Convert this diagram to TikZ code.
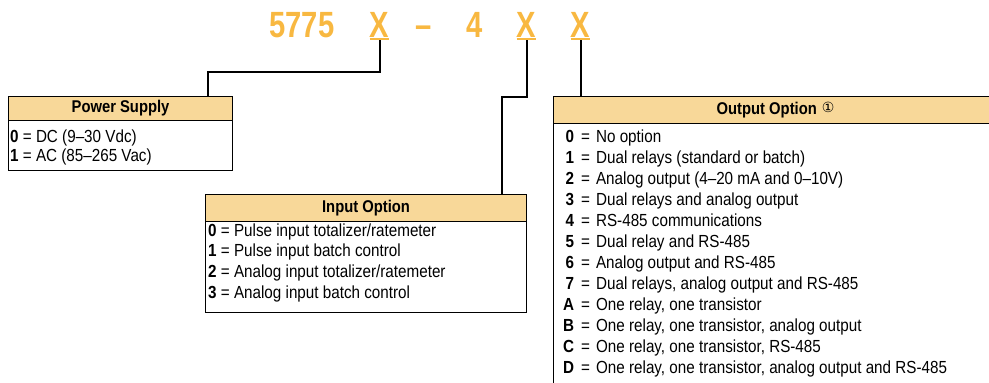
\documentclass[tikz,border=0pt]{standalone}
\usepackage{fontspec}
\setmainfont{Liberation Sans}[FakeStretch=0.87]
\newfontfamily\titlefont{Liberation Sans}[FakeStretch=0.8,Ligatures=TeX]
\newfontfamily\symfont{DejaVu Sans}
\usepackage{xcolor}
\usetikzlibrary{calc}
\definecolor{codeorange}{HTML}{F8B841}
\definecolor{hdfill}{HTML}{F8D899}

\begin{document}
\begin{tikzpicture}[
  x=1pt,y=-1pt,
  hd/.style={draw=black,line width=1.1pt,fill=hdfill,inner sep=0pt,anchor=north west,
             font=\fontsize{17}{20}\selectfont\bfseries},
  bd/.style={draw=black,line width=1.1pt,fill=white,inner sep=0pt,anchor=north west},
  it/.style={anchor=base west,inner sep=0pt,font=\fontsize{17.5}{20}\selectfont},
  ttl/.style={anchor=base,inner sep=0pt,text=codeorange,font=\titlefont\fontsize{36.5}{40}\selectfont\bfseries},
  w/.style={draw=black,line width=2pt},
  ul/.style={draw=codeorange,line width=2pt}]
\useasboundingbox (0,0) rectangle (989,383);

% model code
\node[ttl] (n5775) at (302,37)   {5775};
\node[ttl] (xps)   at (379.5,37) {X};
\node[ttl] (dash)  at (423.5,37) {–};
\node[ttl] (n4)    at (474.5,37) {4};
\node[ttl] (xin)   at (526.5,37) {X};
\node[ttl] (xout)  at (580.5,37) {X};
\foreach \x in {xps,xin,xout}
  \draw[ul] ([yshift=-2pt]\x.base west) -- ([yshift=-2pt]\x.base east);

% power supply
\node[bd,minimum width=224pt,minimum height=50pt] (psbd) at (8,120) {};
\node[hd,minimum width=224pt,minimum height=24pt] (pshd) at (8,96) {Power Supply};
\node[it] (ps0) at (10,142.5) {\textbf{0} = DC (9--30 Vdc)};
\node[it] (ps1) at (10,161.5) {\textbf{1} = AC (85--265 Vac)};

% input option
\node[bd,minimum width=321pt,minimum height=91pt] (inbd) at (205,221) {};
\node[hd,minimum width=321pt,minimum height=27pt] (inhd) at (205,194) {Input Option};
\foreach \k/\t [count=\i from 0] in {0/{Pulse input totalizer/ratemeter},
    1/Pulse input batch control,2/{Analog input totalizer/ratemeter},3/Analog input batch control}
  \node[it] (in\k) at (208,236+20.7*\i) {\textbf{\k} = \t};

% output option (runs off the page)
\begin{scope}
\clip (0,0) rectangle (989,383);
\node[bd,minimum width=444pt,minimum height=290pt] (outbd) at (553,123) {};
\node[hd,minimum width=444pt,minimum height=27pt] (outhd) at (553,96)
  {Output Option\hspace{5pt}{\symfont\fontsize{14}{14}\selectfont\mdseries\raisebox{2pt}{①}}};
\foreach \k/\t [count=\i from 0] in {0/No option,1/{Dual relays (standard or batch)},
    2/{Analog output (4--20 mA and 0--10V)},3/Dual relays and analog output,
    4/RS-485 communications,5/Dual relay and RS-485,6/Analog output and RS-485,
    7/{Dual relays, analog output and RS-485},A/{One relay, one transistor},
    B/{One relay, one transistor, analog output},C/{One relay, one transistor, RS-485},
    D/{One relay, one transistor, analog output and RS-485}}
  \node[it] (out\k) at (556,142+21*\i) {\makebox[18pt][r]{\textbf{\k}}\hspace{7pt}=\hspace{6pt}\t};
\end{scope}

% connectors
\coordinate (psjog) at (208,72);
\coordinate (injog) at (502,97);
\draw[w] ([yshift=-3pt]xps.south) |- (psjog) -- (pshd.north -| psjog);
\draw[w] ([yshift=-3pt]xin.south) |- (injog) -- (inhd.north -| injog);
\draw[w] ([yshift=-3pt]xout.south) -- (outhd.north -| xout.south);
\end{tikzpicture}
\end{document}
